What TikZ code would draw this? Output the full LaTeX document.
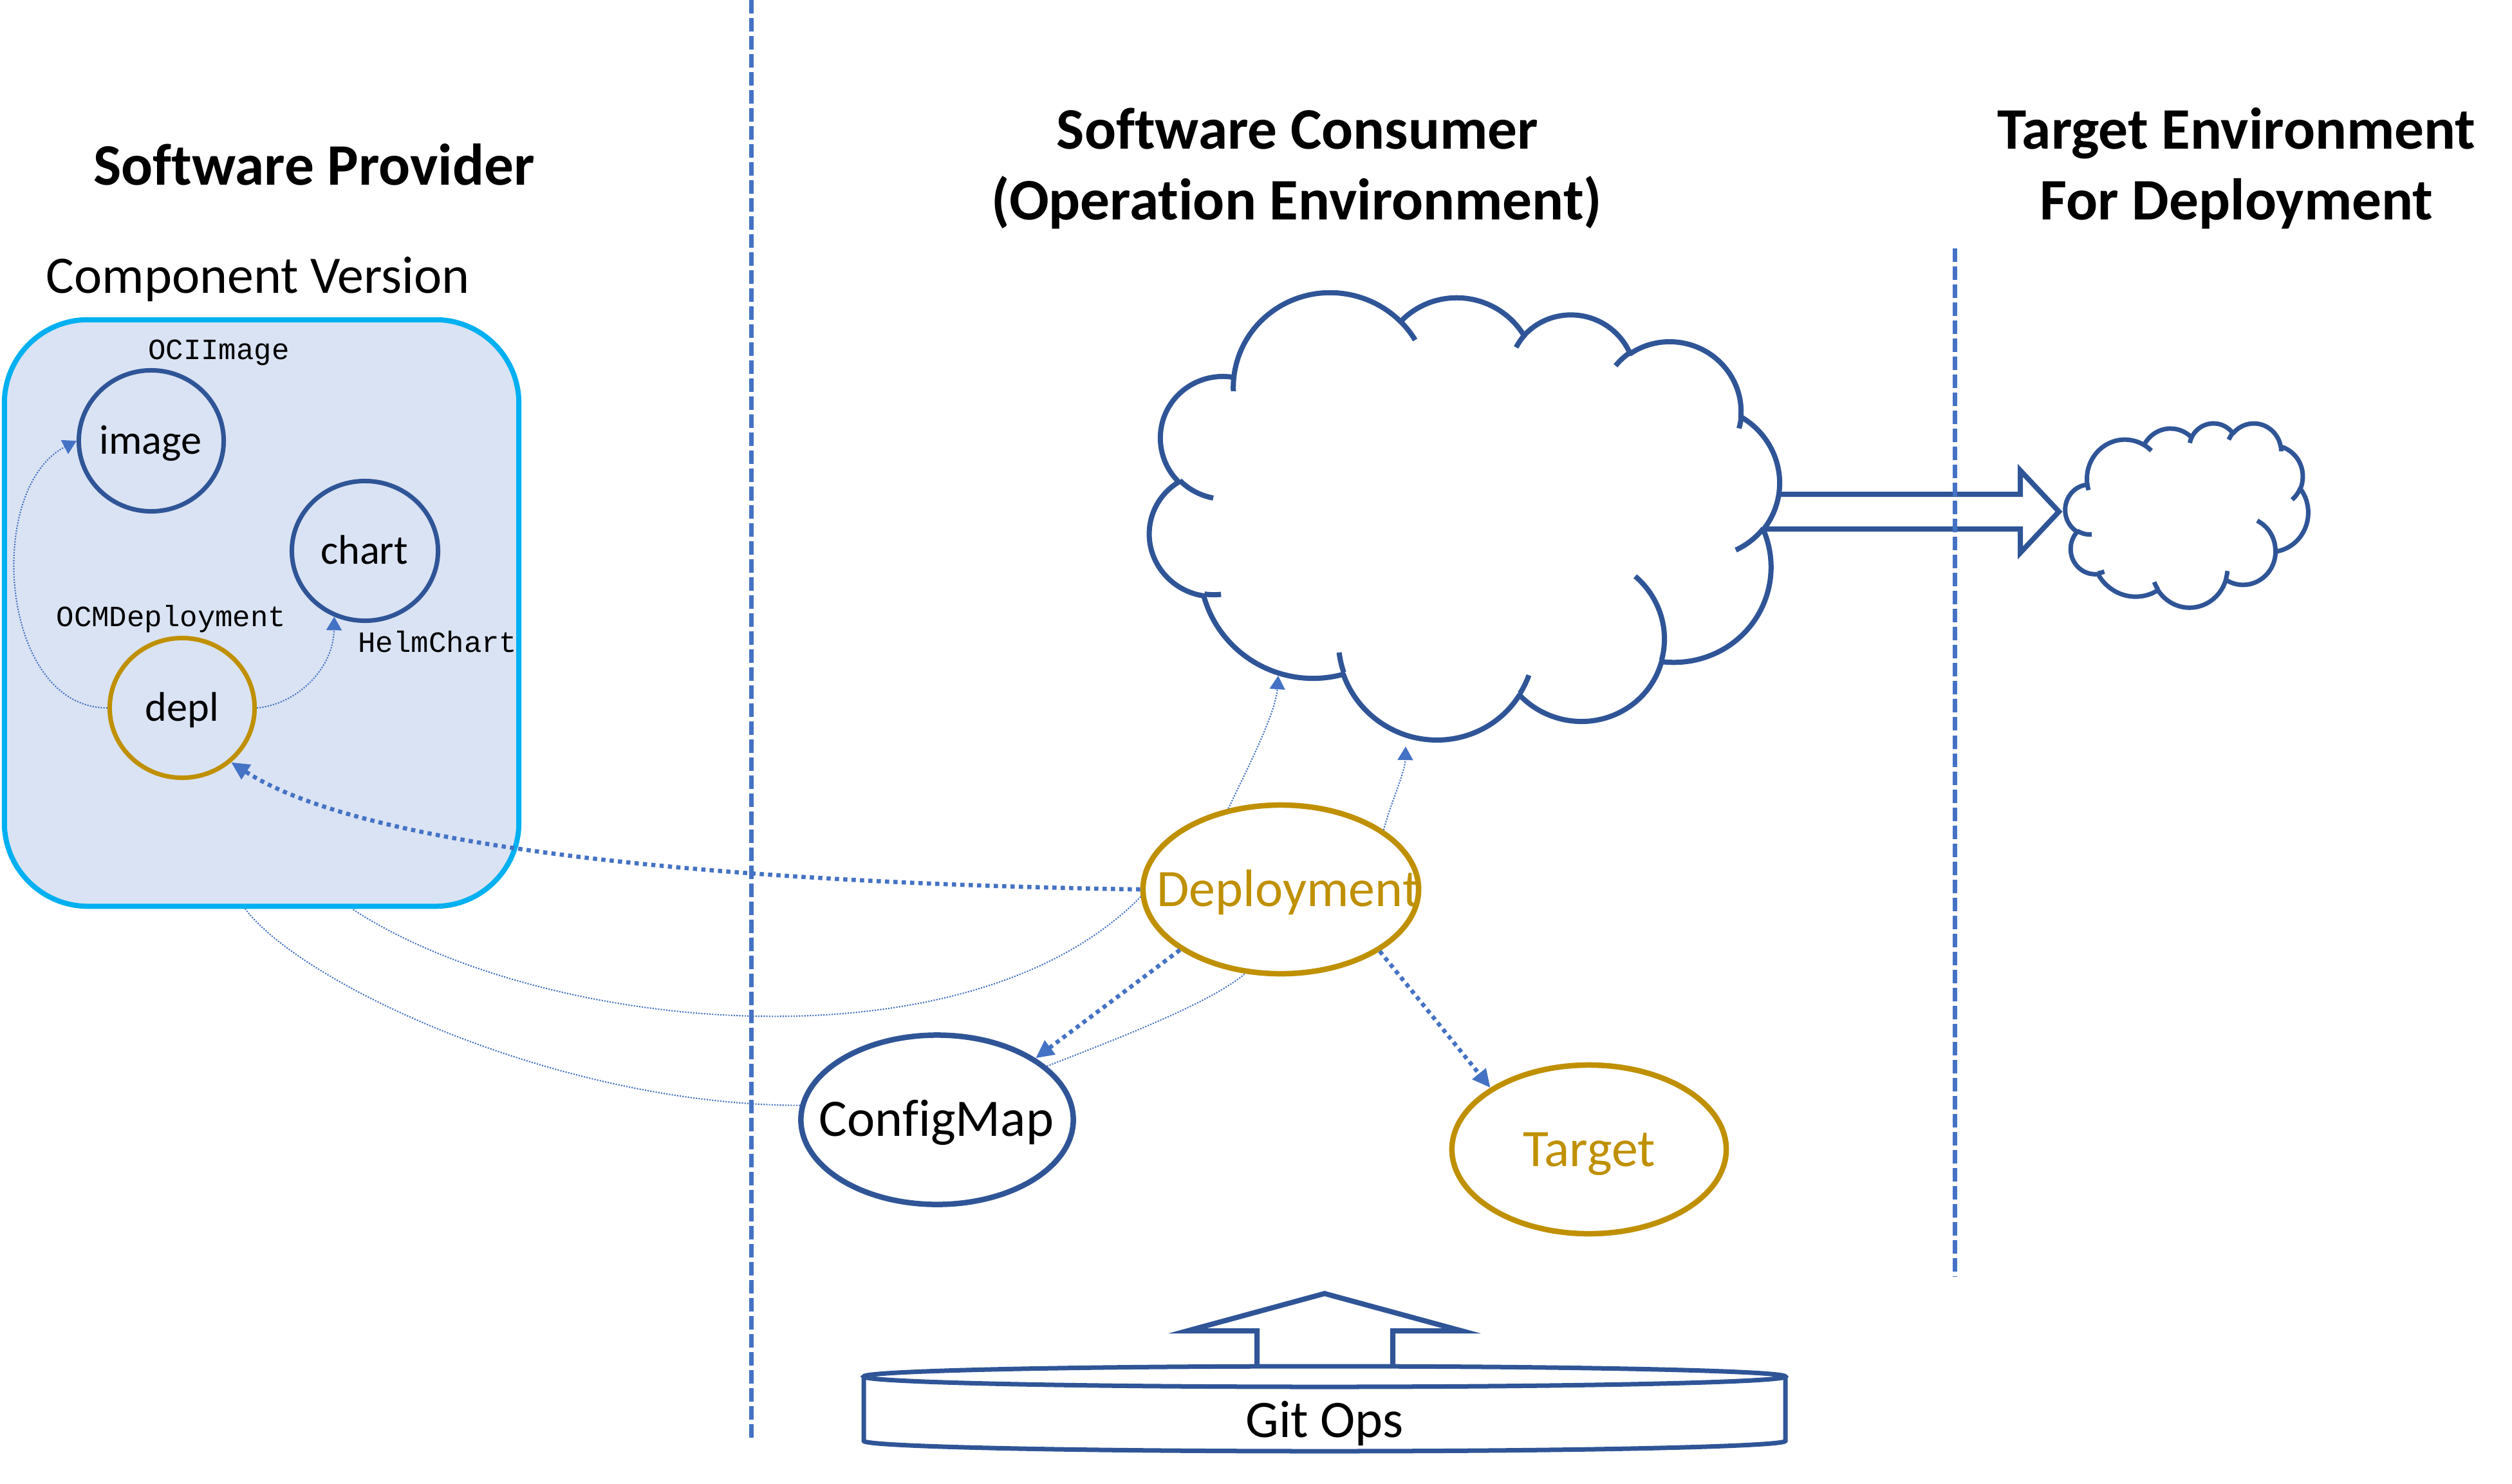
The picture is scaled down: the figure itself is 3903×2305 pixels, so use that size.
\documentclass[tikz,border=0pt]{standalone}
\usepackage{fontspec}
\setmainfont{Carlito}[Ligatures=NoCommon]
\newfontfamily\monof{Liberation Mono}
\usetikzlibrary{shapes.geometric,arrows.meta}
\definecolor{dkblue}{HTML}{2F5597}
\definecolor{gold}{HTML}{BF9000}
\definecolor{lnblue}{HTML}{4472C4}
\definecolor{cyanb}{HTML}{00B0F0}
\definecolor{boxfill}{HTML}{DAE3F3}

% Office "cloud" arcs: visual angle -> parametric angle
\newcommand\mkarc[5]{%
  \pgfmathsetmacro\zzS{atan2((#2)*sin(#4),(#3)*cos(#4))}%
  \pgfmathsetmacro\zzE{atan2((#2)*sin((#4)+(#5)),(#3)*cos((#4)+(#5)))}%
  \pgfmathsetmacro\zzD{mod((\zzE)-(\zzS)+720,360)}%
  \expandafter\xdef\csname zs#1\endcsname{\zzS}%
  \expandafter\xdef\csname zd#1\endcsname{\zzD}%
}
\mkarc{A}{67.53}{91.90}{-190.48748}{123.78053}
\mkarc{B}{53.33}{72.67}{-144.10238}{89.94523}
\mkarc{C}{43.65}{59.45}{-145.80792}{99.72302}
\mkarc{D}{48.57}{65.95}{-130.98607}{117.24173}
\mkarc{E}{53.33}{72.73}{-78.70888}{109.02692}
\mkarc{F}{67.75}{92.20}{-46.26725}{130.26900}
\mkarc{G}{57.85}{78.67}{0.62502}{114.03333}
\mkarc{H}{67.52}{92.15}{22.45160}{115.17255}
\mkarc{I}{77.20}{105.43}{66.24263}{75.71102}
\mkarc{J}{43.60}{59.18}{-274.94208}{146.73557}
\mkarc{K}{43.45}{59.45}{-246.82850}{152.51885}
\mkarc{L}{43.45}{59.45}{86.74200}{26.42950}
\mkarc{M}{43.60}{59.18}{73.61047}{11.44747}
\mkarc{N}{67.52}{92.15}{137.62415}{14.08110}
\mkarc{O}{67.52}{92.15}{6.45327}{15.99835}
\mkarc{P}{57.85}{78.67}{-70.29235}{70.91737}
\mkarc{Q}{53.33}{72.73}{30.31803}{27.75150}
\mkarc{R}{48.57}{65.95}{-13.74433}{14.85890}
\mkarc{S}{48.57}{65.95}{-149.18145}{18.19537}
\mkarc{T}{43.65}{59.45}{-163.49427}{17.68635}
\mkarc{U}{67.53}{91.90}{-66.70695}{12.31935}
\mkarc{V}{67.53}{91.90}{157.65435}{11.85817}

\newcommand\cloudshape[1]{%
 \draw[draw=dkblue, line width=#1, fill=white, line join=round]
  (39.00,143.70)
  arc[x radius=67.53,y radius=91.90,start angle=\zsA,delta angle=\zdA]
  arc[x radius=53.33,y radius=72.67,start angle=\zsB,delta angle=\zdB]
  arc[x radius=43.65,y radius=59.45,start angle=\zsC,delta angle=\zdC]
  arc[x radius=48.57,y radius=65.95,start angle=\zsD,delta angle=\zdD]
  arc[x radius=53.33,y radius=72.73,start angle=\zsE,delta angle=\zdE]
  arc[x radius=67.75,y radius=92.20,start angle=\zsF,delta angle=\zdF]
  arc[x radius=57.85,y radius=78.67,start angle=\zsG,delta angle=\zdG]
  arc[x radius=67.52,y radius=92.15,start angle=\zsH,delta angle=\zdH]
  arc[x radius=77.20,y radius=105.43,start angle=\zsI,delta angle=\zdI]
  arc[x radius=43.60,y radius=59.18,start angle=\zsJ,delta angle=\zdJ]
  arc[x radius=43.45,y radius=59.45,start angle=\zsK,delta angle=\zdK]
  -- cycle;
 \draw[draw=dkblue, line width=#1]
  (46.93,261.77) arc[x radius=43.45,y radius=59.45,start angle=\zsL,delta angle=\zdL]
  (69.28,348.99) arc[x radius=43.60,y radius=59.18,start angle=\zsM,delta angle=\zdM]
  (164.78,390.90) arc[x radius=67.52,y radius=92.15,start angle=\zsN,delta angle=\zdN]
  (288.27,347.51) arc[x radius=67.52,y radius=92.15,start angle=\zsO,delta angle=\zdO]
  (341.29,229.54) arc[x radius=57.85,y radius=78.67,start angle=\zsP,delta angle=\zdP]
  (417.98,153.54) arc[x radius=53.33,y radius=72.73,start angle=\zsQ,delta angle=\zdQ]
  (383.24,54.26) arc[x radius=48.57,y radius=65.95,start angle=\zsR,delta angle=\zdR]
  (290.78,39.52) arc[x radius=48.57,y radius=65.95,start angle=\zsS,delta angle=\zdS]
  (221.41,47.20) arc[x radius=43.65,y radius=59.45,start angle=\zsT,delta angle=\zdT]
  (140.00,51.92) arc[x radius=67.53,y radius=91.90,start angle=\zsU,delta angle=\zdU]
  (41.27,157.89) arc[x radius=67.53,y radius=91.90,start angle=\zsV,delta angle=\zdV];
}

\begin{document}
\begin{tikzpicture}[x=0.01cm,y=-0.01cm,
  titlef/.style={font={\fontsize{26pt}{31pt}\selectfont\bfseries}, inner sep=0pt, anchor=base},
  cvf/.style={font={\fontsize{23.3pt}{28pt}\selectfont}, inner sep=0pt, anchor=base},
  monolbl/.style={font={\monof\fontsize{13pt}{15pt}\selectfont}, inner sep=0pt, anchor=base},
  smalllbl/.style={font={\fontsize{18.3pt}{22pt}\selectfont}, inner sep=0pt, anchor=base},
  biglbl/.style={font={\fontsize{23.3pt}{28pt}\selectfont}, inner sep=0pt, anchor=base},
  circ/.style={ellipse, draw, line width=0.07cm, inner sep=0pt},
  ell/.style={ellipse, draw, line width=0.085cm, inner sep=0pt, fill=white},
  dashln/.style={draw=lnblue, line width=0.07cm, dash pattern=on 0.21cm off 0.07cm},
  thickdot/.style={draw=lnblue, line width=0.065cm, dash pattern=on 0.065cm off 0.065cm},
  thindot/.style={draw=lnblue, line width=0.6pt, dash pattern=on 0.6pt off 0.6pt},
  bigtip/.style={-{Triangle[length=0.28cm,width=0.26cm]}},
  smalltip/.style={-{Triangle[length=0.21cm,width=0.24cm]}},
  blockarrow/.style={draw=dkblue, line width=0.08cm, line join=miter, fill=white},
  can/.style={draw=dkblue, line width=0.07cm, fill=white}
]
\useasboundingbox (0,0) rectangle (3903,2305);
\fill[white] (0,0) rectangle (3903,2305);

% titles
\node[titlef] (sp) at (488,287) {Software Provider};
\node[cvf] (cvt) at (401,455) {Component Version};
\node[titlef] (sc1) at (2016,231) {Software Consumer};
\node[titlef] (sc2) at (2015,341) {(Operation Environment)};
\node[titlef] (te1) at (3475,231) {Target Environment};
\node[titlef] (te2) at (3475,341) {For Deployment};

% component version box
\node[draw=cyanb, line width=0.08cm, fill=boxfill, rounded corners=1.3cm,
      minimum width=7.99cm, minimum height=9.11cm, inner sep=0pt] (cv) at (406.5,952.5) {};
\node[circ, draw=dkblue, minimum width=2.25cm, minimum height=2.19cm] (image) at (235,685) {};
\node[circ, draw=dkblue, minimum width=2.27cm, minimum height=2.17cm] (chart) at (567,856) {};
\node[circ, draw=gold, minimum width=2.25cm, minimum height=2.17cm] (depl) at (283,1100) {};
\node[smalllbl] (imaget) at (234,705) {image};
\node[smalllbl] (chartt) at (566,876) {chart};
\node[smalllbl] (deplt) at (283,1120) {depl};
\node[monolbl] (ocii) at (340,558) {OCIImage};
\node[monolbl] (ocmd) at (266,973) {OCMDeployment};
\node[monolbl] (helm) at (680,1013) {HelmChart};

\draw[thindot, smalltip] (depl.west) .. controls (0,1100) and (-25,760) .. (image.west);
\draw[thindot, smalltip] (depl.east) .. controls (460,1095) and (518,1040) .. (chart.-115);

% block arrow to target and clouds
\draw[blockarrow] (2700,768) -- (3139,768) -- (3139,731) -- (3199,795) -- (3139,859) -- (3139,822) -- (2700,822);
\begin{scope}[shift={(2273,801)}, rotate=-15, x=0.022569cm, y=-0.016204cm, shift={(-216,-216)}]
  \cloudshape{0.08cm}
\end{scope}
\begin{scope}[shift={(3209,657)}, x=0.008727cm, y=-0.0066204cm]
  \cloudshape{0.07cm}
\end{scope}
\coordinate (cl1) at (1986,1050);
\coordinate (cl2) at (2184,1160);

% dashed separators
\draw[dashln] (1167,0) -- (1167,2240);
\draw[dashln] (3037,386) -- (3037,1984);

% consumer nodes
\node[ell, draw=gold, minimum width=4.28cm, minimum height=2.62cm] (Deployment) at (1990,1382) {};
\node[ell, draw=dkblue, minimum width=4.23cm, minimum height=2.63cm] (ConfigMap) at (1456,1740) {};
\node[ell, draw=gold, minimum width=4.26cm, minimum height=2.62cm] (Target) at (2469,1786) {};
\node[biglbl, text=gold] (deployt) at (2002,1408) {Deployment};
\node[biglbl] (cmt) at (1455,1765) {ConfigMap};
\node[biglbl, text=gold] (targett) at (2469,1812) {Target};

\coordinate (cvb1) at ([xshift=1.405cm]cv.south);
\coordinate (cvb2) at ([xshift=-0.255cm]cv.south);

\draw[thickdot, bigtip] (Deployment.west) .. controls (1300,1375) and (600,1340) .. (depl.-48);
\draw[thickdot, bigtip] (Deployment.211) -- (ConfigMap.32);
\draw[thickdot, bigtip] (Deployment.-32) -- (Target.148);
\draw[thindot] (Deployment.183) .. controls (1500,1671) and (838,1604) .. (cvb1);
\draw[thindot] (ConfigMap.174) .. controls (870,1717) and (470,1530) .. (cvb2);
\draw[thindot] (ConfigMap.26) .. controls (1720,1620) and (1880,1560) .. (Deployment.-113);
\draw[thindot, smalltip] (Deployment.123) .. controls (1935,1200) and (1982,1110) .. (cl1);
\draw[thindot, smalltip] (Deployment.30) .. controls (2160,1250) and (2183,1200) .. (cl2);

% git ops
\draw[blockarrow] (1953,2139) -- (1953,2068) -- (1845,2068) -- (2058,2010) -- (2271,2068) -- (2164,2068) -- (2164,2139);
\fill[white] (1342,2139) -- (1342,2239) arc[start angle=180, end angle=0, x radius=716, y radius=16] -- (2774,2139) -- cycle;
\draw[can, fill=none] (1342,2139) -- (1342,2239) arc[start angle=180, end angle=0, x radius=716, y radius=16] -- (2774,2139);
\draw[can] (2058,2139) ellipse[x radius=716, y radius=16];
\node[biglbl] (gitops) at (2058,2233) {Git Ops};
\end{tikzpicture}
\end{document}
